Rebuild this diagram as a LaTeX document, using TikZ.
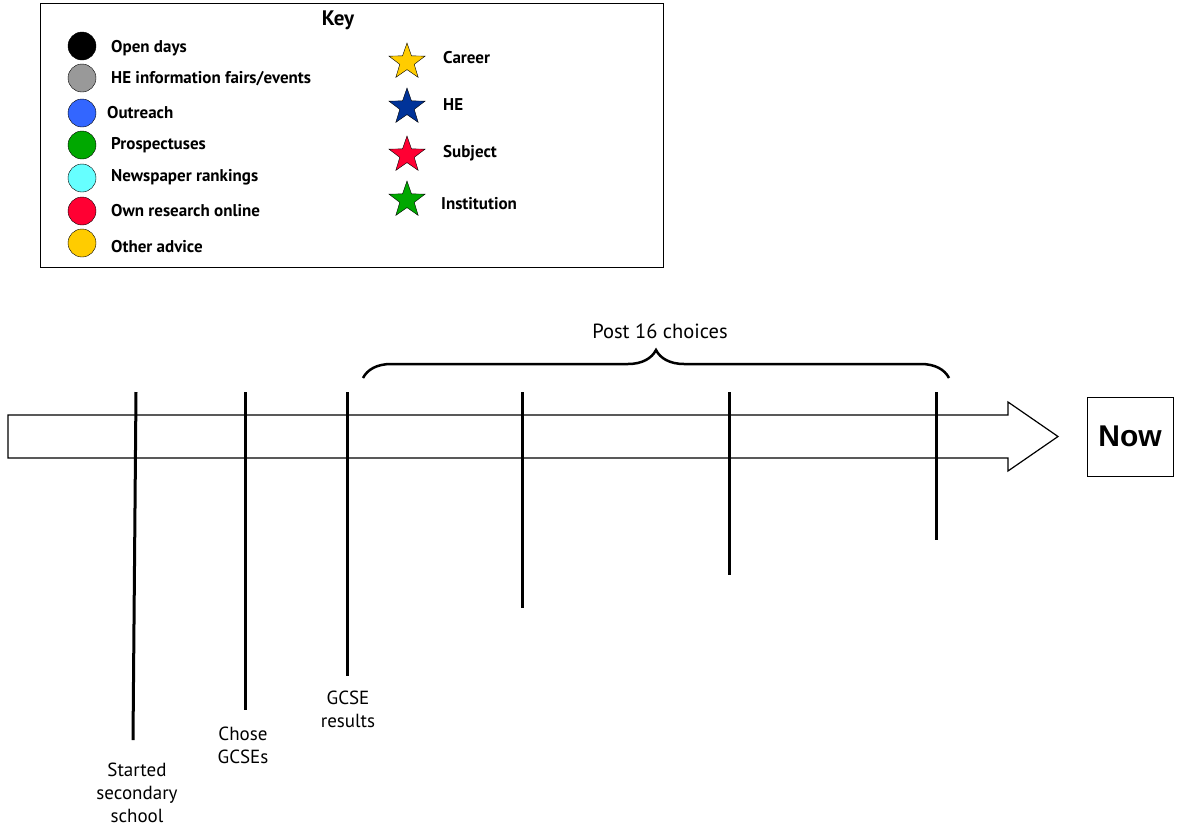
\documentclass[tikz,border=0pt]{standalone}
\usepackage{fontspec}
\setmainfont{PT Sans}
\newfontfamily\nowfont{Liberation Sans}
\usetikzlibrary{positioning, shapes.geometric, decorations.pathreplacing}
\definecolor{keygray}{HTML}{999999}
\definecolor{keyblue}{HTML}{3366FF}
\definecolor{keygreen}{HTML}{00A800}
\definecolor{keycyan}{HTML}{66FFFF}
\definecolor{keyred}{HTML}{FF0033}
\definecolor{keygold}{HTML}{FFCC00}
\definecolor{keynavy}{HTML}{003399}

\tikzset{
  keydot/.style={circle, draw=black, fill=#1, minimum size=28pt, inner sep=0pt},
  keystar/.style={star, star points=5, star point ratio=2.5, draw=black, fill=#1,
                  minimum size=38pt, inner sep=0pt},
  keytext/.style={anchor=west, inner sep=0pt, font=\bfseries\fontsize{17}{19}\selectfont},
  tickline/.style={line width=3pt},
  eventlabel/.style={anchor=north, align=center, inner sep=0pt,
                     font=\fontsize{19}{23}\selectfont}
}

\begin{document}
\begin{tikzpicture}[x=1pt, y=-1pt]
  \useasboundingbox (0,0) rectangle (1177,828);

  % key
  \node[draw, line width=1pt, anchor=north west, minimum width=623pt,
        minimum height=264pt] (keybox) at (40,3) {};
  \node[font=\bfseries\fontsize{21}{24}\selectfont] (keytitle) at (338,20) {Key};
  \foreach \col/\yy/\xx/\ty/\txt [count=\i] in
      {black/46/111/48/{Open days}, keygray/78/111/79/{HE information fairs/events},
       keyblue/113/107/113/{Outreach}, keygreen/145/111/145/{Prospectuses},
       keycyan/178/111/177/{Newspaper rankings}, keyred/211/111/211/{Own research online},
       keygold/243/111/247/{Other advice}}
  {
    \node[keydot=\col] (dot\i) at (82,\yy) {};
    \node[keytext] (dottext\i) at (\xx,\ty) {\txt};
  }
  \foreach \col/\yy/\xx/\ty/\txt [count=\i] in
      {keygold/62/443/58/Career, keynavy/107/443/105/HE,
       keyred/155/443/153/Subject, keygreen/200/441/204/Institution}
  {
    \node[keystar=\col] (star\i) at (407,\yy) {};
    \node[keytext] (startext\i) at (\xx,\ty) {\txt};
  }

  % timeline
  \draw[line width=1.2pt] (8,415) -- (1008,415) -- (1008,402) -- (1058,436.5)
    -- (1008,471) -- (1008,458) -- (8,458) -- cycle;
  \node[draw, line width=1pt, minimum width=86pt, minimum height=79pt]
    (now) at (1130,436.5) {\nowfont\bfseries\fontsize{30}{34}\selectfont Now};

  \coordinate (t1top) at (136,392);  \coordinate (t1bot) at (133,740);
  \coordinate (t2top) at (245,392);  \coordinate (t2bot) at (245,710);
  \coordinate (t3top) at (347,392);  \coordinate (t3bot) at (347,676);
  \coordinate (t4top) at (522,392);  \coordinate (t4bot) at (522,608);
  \coordinate (t5top) at (729,392);  \coordinate (t5bot) at (729,575);
  \coordinate (t6top) at (936,392);  \coordinate (t6bot) at (936,540);
  \foreach \i in {1,...,6}
    \draw[tickline] (t\i top) -- (t\i bot);

  \node[eventlabel] (started) at (137,763) {Started\\secondary\\school};
  \node[eventlabel] (chose) at (243,727) {Chose\\GCSEs};
  \node[eventlabel] (results) at (348,691) {GCSE\\results};

  % post 16
  \coordinate (bracel) at (363,378);
  \coordinate (bracer) at (949,378);
  \draw[line width=2.5pt, decorate, decoration={brace, amplitude=28pt}]
    (bracel) -- (bracer);
  \node[font=\fontsize{20.5}{24}\selectfont] (post) at (660,331) {Post 16 choices};
\end{tikzpicture}
\end{document}
